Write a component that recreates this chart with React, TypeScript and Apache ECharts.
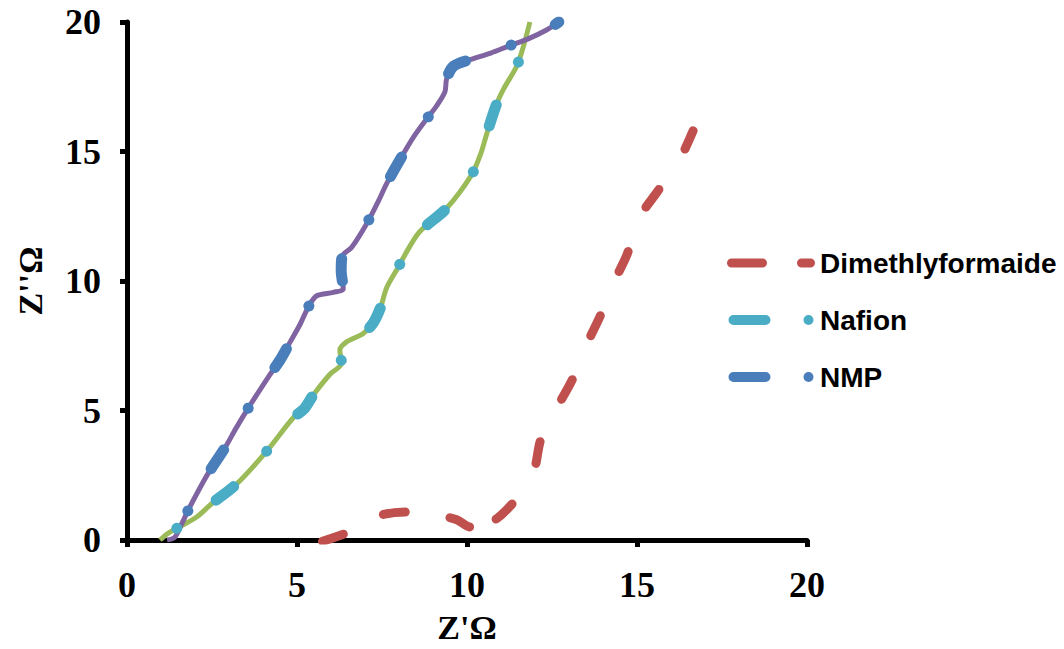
import React, { useEffect, useRef } from "react";
import * as echarts from "echarts";

const xTicks = [0, 5, 10, 15, 20];
const yTicks = [0, 5, 10, 15, 20];
const seriesNames = ["Dimethlyformaide", "Nafion", "NMP"];

// Dimethlyformaide, split at the local minimum so each part keeps its own dash phase
const dmfLow: number[][] = [
  [5.75, -0.05], [6.6, 0.35], [7.3, 0.9], [8.2, 1.08], [9.0, 1.0], [9.7, 0.78],
  [10.1, 0.5], [10.4, 0.52],
];
const dmfHigh: number[][] = [
  [10.4, 0.52], [10.9, 0.85], [11.4, 1.5], [11.8, 2.2], [12.0, 2.8],
  [12.15, 3.8], [12.4, 4.6], [12.7, 5.25], [13.1, 6.2], [13.5, 7.5], [13.9, 8.6],
  [14.3, 9.9], [14.7, 11.0], [15.1, 12.5], [15.6, 13.45], [15.95, 14.1],
  [16.3, 14.8], [16.65, 15.8],
];

const nafion: number[][] = [
  [0.97, 0.0], [1.2, 0.25], [1.46, 0.45], [2.05, 0.89], [2.49, 1.4], [3.23, 2.17],
  [4.09, 3.4], [4.89, 4.72], [5.2, 5.05], [5.48, 5.6], [5.97, 6.4], [6.31, 6.82],
  [6.26, 7.33], [6.46, 7.65], [6.95, 7.97], [7.25, 8.4], [7.46, 8.99], [7.64, 9.75],
  [7.98, 10.54], [8.3, 11.3], [8.62, 11.92], [9.4, 12.81], [10.14, 14.11],
  [10.4, 14.9], [10.58, 15.68], [10.87, 16.83], [11.07, 17.4], [11.46, 18.29],
  [11.66, 19.06], [11.85, 20.0],
];

const nmp: number[][] = [
  [1.18, 0.0], [1.4, 0.1], [1.6, 0.6], [1.8, 1.15], [2.1, 1.9], [2.4, 2.6],
  [2.9, 3.6], [3.2, 4.3], [3.57, 5.1], [4.16, 6.3], [4.5, 6.95], [4.8, 7.65],
  [5.1, 8.35], [5.33, 8.99], [5.58, 9.43], [6.07, 9.56], [6.36, 9.7], [6.3, 10.4],
  [6.33, 10.96], [6.61, 11.3], [7.1, 12.33], [7.4, 13.1], [7.64, 13.77],
  [8.13, 14.91], [8.45, 15.6], [8.81, 16.25], [9.1, 16.75], [9.35, 17.3],
  [9.4, 17.8], [9.6, 18.29], [10.09, 18.55], [10.7, 18.8], [11.24, 19.08],
  [11.8, 19.35], [12.34, 19.69], [12.7, 20.0],
];

const RED = "#C0504D";
const CYAN = "#4BACC6";
const BLUE = "#4A7EBB";
const GREEN = "#9BBB59";
const PURPLE = "#8064A2";

const dashIcon =
  "path://M4.5,0.5 L35.5,0.5 A4.5,4.5 0 0 1 35.5,9.5 L4.5,9.5 A4.5,4.5 0 0 1 4.5,0.5 Z " +
  "M74.5,0.5 L83.5,0.5 A4.5,4.5 0 0 1 83.5,9.5 L74.5,9.5 A4.5,4.5 0 0 1 74.5,0.5 Z";
const dotIcon =
  "path://M5,0 L37,0 A5,5 0 0 1 37,10 L5,10 A5,5 0 0 1 5,0 Z " +
  "M75,5 A5,5 0 1 1 85,5 A5,5 0 1 1 75,5 Z";

export default function App() {
  const ref = useRef<HTMLDivElement>(null);
  useEffect(() => {
    if (!ref.current) return;
    const chart = echarts.init(ref.current, null, { renderer: "svg" });
    const axisFont = {
      fontFamily: "Liberation Serif, serif",
      fontWeight: "bold" as const,
      fontSize: 36,
      color: "#000",
    };
    const nameFont = { ...axisFont, fontSize: 34 };
    chart.setOption({
      animation: false,
      grid: { left: 127, top: 22, width: 680, height: 525, containLabel: false },
      xAxis: {
        type: "value",
        min: 0,
        max: 20,
        interval: 5,
        name: "Z'Ω",
        nameLocation: "middle",
        nameGap: 70,
        nameTextStyle: nameFont,
        axisLine: { show: true, onZero: false, lineStyle: { color: "#000", width: 5 } },
        axisTick: { show: true, length: 7, lineStyle: { color: "#000", width: 5 } },
        axisLabel: { ...axisFont, margin: 27, customValues: xTicks },
        splitLine: { show: false },
      },
      yAxis: {
        type: "value",
        min: 0,
        max: 20,
        interval: 5,
        name: "Z''Ω",
        nameLocation: "middle",
        nameGap: 80,
        nameRotate: 90,
        nameTextStyle: nameFont,
        axisLine: { show: true, onZero: false, lineStyle: { color: "#000", width: 5 } },
        axisTick: { show: true, length: 7, lineStyle: { color: "#000", width: 5 } },
        axisLabel: { ...axisFont, margin: 26, customValues: yTicks },
        splitLine: { show: false },
      },
      legend: {
        orient: "vertical",
        left: 727,
        top: 249,
        padding: 0,
        itemWidth: 88,
        itemHeight: 10,
        itemGap: 29,
        textStyle: {
          fontFamily: "Liberation Sans, Arial, sans-serif",
          fontWeight: "bold",
          fontSize: 28,
          color: "#000",
        },
        itemStyle: { borderWidth: 0 },
        data: [
          { name: seriesNames[0], icon: dashIcon, itemStyle: { color: RED, borderWidth: 0 } },
          { name: seriesNames[1], icon: dotIcon, itemStyle: { color: CYAN, borderWidth: 0 } },
          { name: seriesNames[2], icon: dotIcon, itemStyle: { color: BLUE, borderWidth: 0 } },
        ],
      },
      series: [
        {
          name: "Nafion fit",
          type: "line",
          data: nafion,
          smooth: 0.3,
          symbol: "none",
          color: GREEN,
          lineStyle: { color: GREEN, width: 5 },
          z: 1,
        },
        {
          name: "NMP fit",
          type: "line",
          data: nmp,
          smooth: 0.3,
          symbol: "none",
          color: PURPLE,
          lineStyle: { color: PURPLE, width: 5 },
          z: 1,
        },
        {
          name: seriesNames[0],
          type: "line",
          data: dmfLow,
          smooth: 0.3,
          symbol: "none",
          color: RED,
          lineStyle: { color: RED, width: 9, type: [22, 45], cap: "round", dashOffset: 0 },
          z: 3,
        },
        {
          name: seriesNames[0],
          type: "line",
          data: dmfHigh,
          smooth: 0.3,
          symbol: "none",
          color: RED,
          lineStyle: { color: RED, width: 9, type: [22, 48], cap: "round", dashOffset: 53 },
          z: 3,
        },
        {
          name: seriesNames[1],
          type: "line",
          data: nafion,
          smooth: 0.3,
          symbol: "none",
          color: CYAN,
          lineStyle: { color: CYAN, width: 11, type: [22, 48.6, 0.01, 48.6], cap: "round", dashOffset: 50 },
          z: 3,
        },
        {
          name: seriesNames[2],
          type: "line",
          data: nmp,
          smooth: 0.3,
          symbol: "none",
          color: BLUE,
          lineStyle: { color: BLUE, width: 11, type: [22, 48.6, 0.01, 48.6], cap: "round", dashOffset: 33 },
          z: 3,
        },
      ],
    });
    return () => chart.dispose();
  }, []);
  return (
    <div
      ref={ref}
      style={{ position: "fixed", left: 0, top: 0, width: 1064, height: 649, background: "#fff" }}
    />
  );
}
